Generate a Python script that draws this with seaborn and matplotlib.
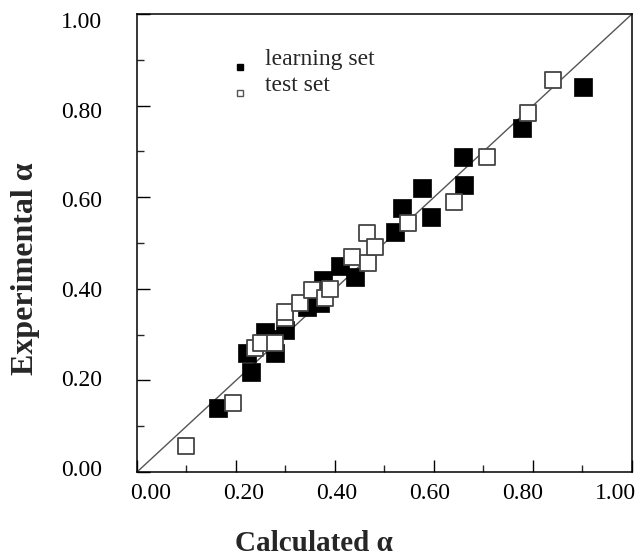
import numpy as np
import pandas as pd
import matplotlib
matplotlib.use("Agg")
import matplotlib.pyplot as plt
from matplotlib.ticker import MultipleLocator, FormatStrFormatter
from matplotlib.lines import Line2D
from matplotlib.transforms import ScaledTranslation
import seaborn as sns

# learning set (filled squares)
learn_calc = [0.164, 0.230, 0.222, 0.259, 0.279, 0.275, 0.300, 0.343, 0.376, 0.370,
              0.410, 0.440, 0.521, 0.535, 0.576, 0.594, 0.659, 0.661, 0.778, 0.901]
learn_exp = [0.139, 0.218, 0.261, 0.306, 0.259, 0.291, 0.311, 0.360, 0.419, 0.370,
             0.451, 0.426, 0.524, 0.576, 0.620, 0.557, 0.688, 0.627, 0.751, 0.840]

# test set (open squares)
test_calc = [0.100, 0.194, 0.238, 0.250, 0.279, 0.299, 0.300, 0.330, 0.354, 0.380,
             0.390, 0.434, 0.467, 0.465, 0.480, 0.547, 0.640, 0.707, 0.790, 0.840]
test_exp = [0.058, 0.150, 0.270, 0.281, 0.281, 0.336, 0.350, 0.370, 0.397, 0.380,
            0.399, 0.469, 0.456, 0.521, 0.491, 0.544, 0.589, 0.688, 0.783, 0.856]

sns.set_style("white")
plt.rcParams['font.family'] = ['Liberation Serif', 'DejaVu Serif']

fig = plt.figure(figsize=(6.4, 5.58), dpi=100)
ax = fig.add_axes([0.214, 0.154, 0.7734, 0.8208])

# identity line
ax.plot([0, 1], [0, 1], color='#555555', lw=1.0, zorder=1)

df_test = pd.DataFrame({'calc': test_calc, 'exp': test_exp})
df_learn = pd.DataFrame({'calc': learn_calc, 'exp': learn_exp})

sns.scatterplot(data=df_learn, x='calc', y='exp', marker='s', s=150,
                color='black', edgecolor='black', linewidth=0.5, ax=ax, zorder=2)
sns.scatterplot(data=df_test, x='calc', y='exp', marker='s', s=130,
                facecolor='white', edgecolor='#444444', linewidth=1.3, ax=ax, zorder=3)

ax.set_xlim(0, 1)
ax.set_ylim(0, 1)
ax.xaxis.set_major_locator(MultipleLocator(0.2))
ax.yaxis.set_major_locator(MultipleLocator(0.2))
ax.xaxis.set_minor_locator(MultipleLocator(0.1))
ax.yaxis.set_minor_locator(MultipleLocator(0.1))
ax.xaxis.set_major_formatter(FormatStrFormatter('%.2f'))
ax.yaxis.set_major_formatter(FormatStrFormatter('%.2f'))
ax.tick_params(which='major', direction='in', length=9, width=1.0, labelsize=17,
               colors='black', bottom=True, left=True, top=False, right=False)
ax.tick_params(axis='x', which='major', pad=8)
ax.tick_params(axis='y', which='major', pad=25)
ax.tick_params(which='minor', direction='in', length=5, width=1.0,
               bottom=True, left=True, top=False, right=False)
for sp in ax.spines.values():
    sp.set_color('black')
    sp.set_linewidth(1.1)

ax.set_xlabel('Calculated α', fontsize=21, fontweight='bold', va='center')
ax.xaxis.set_label_coords(0.358, -0.155)
ax.set_ylabel('Experimental α', fontsize=23, fontweight='bold', va='center', ha='center')
ax.yaxis.set_label_coords(-0.226, 0.445)

handles = [
    Line2D([], [], marker='s', ls='', markersize=5, markerfacecolor='black',
           markeredgecolor='black', label='learning set'),
    Line2D([], [], marker='s', ls='', markersize=5, markerfacecolor='white',
           markeredgecolor='#555555', markeredgewidth=1.0, label='test set'),
]
leg = ax.legend(handles=handles, loc='upper left', bbox_to_anchor=(0.196, 0.925),
                frameon=False, fontsize=17, handletextpad=0.8, labelspacing=0.2,
                handlelength=0.5, borderpad=0, borderaxespad=0)

# the original's tick labels and legend markers sit a little off
fig.canvas.draw()
for tick in ax.xaxis.get_major_ticks():
    dx = 14 - 30 * tick.get_loc()
    tick.label1.set_transform(tick.label1.get_transform()
                              + ScaledTranslation(dx / 100, 0, fig.dpi_scale_trans))
for tick in ax.yaxis.get_major_ticks():
    dy = 6 - 10 * (1 - tick.get_loc())
    tick.label1.set_transform(tick.label1.get_transform()
                              + ScaledTranslation(0, -dy / 100, fig.dpi_scale_trans))
for h in leg.legend_handles:
    h.set_transform(h.get_transform()
                    + ScaledTranslation(0, -10 / 100, fig.dpi_scale_trans))

fig.savefig('out.png', dpi=100)
